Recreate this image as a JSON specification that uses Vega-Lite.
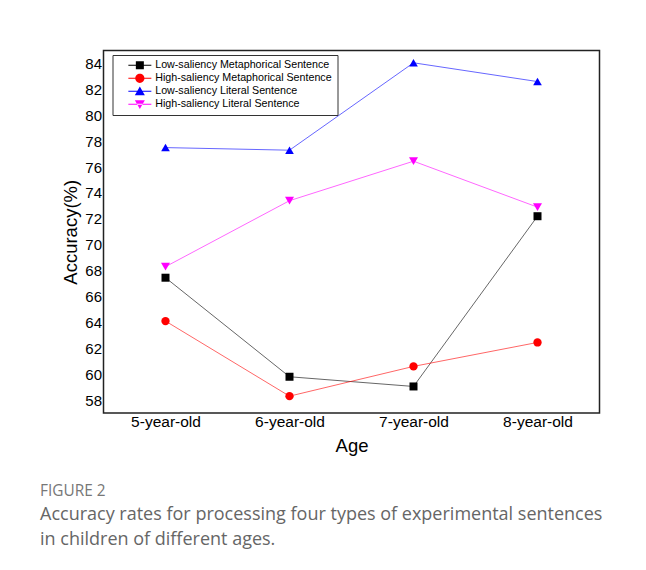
{
  "$schema": "https://vega.github.io/schema/vega-lite/v6.json",
  "autosize": {"type": "none"},
  "width": 496,
  "height": 362.5,
  "padding": {"left": 103.5, "top": 50.5, "right": 46.5, "bottom": 157},
  "background": "white",
  "data": {
    "values": [
      {"age": "5-year-old", "type": "Low-saliency Metaphorical Sentence", "acc": 67.45},
      {"age": "6-year-old", "type": "Low-saliency Metaphorical Sentence", "acc": 59.8},
      {"age": "7-year-old", "type": "Low-saliency Metaphorical Sentence", "acc": 59.05},
      {"age": "8-year-old", "type": "Low-saliency Metaphorical Sentence", "acc": 72.2},
      {"age": "5-year-old", "type": "High-saliency Metaphorical Sentence", "acc": 64.1},
      {"age": "6-year-old", "type": "High-saliency Metaphorical Sentence", "acc": 58.3},
      {"age": "7-year-old", "type": "High-saliency Metaphorical Sentence", "acc": 60.6},
      {"age": "8-year-old", "type": "High-saliency Metaphorical Sentence", "acc": 62.45},
      {"age": "5-year-old", "type": "Low-saliency Literal Sentence", "acc": 77.5},
      {"age": "6-year-old", "type": "Low-saliency Literal Sentence", "acc": 77.3},
      {"age": "7-year-old", "type": "Low-saliency Literal Sentence", "acc": 84.05},
      {"age": "8-year-old", "type": "Low-saliency Literal Sentence", "acc": 82.6},
      {"age": "5-year-old", "type": "High-saliency Literal Sentence", "acc": 68.3},
      {"age": "6-year-old", "type": "High-saliency Literal Sentence", "acc": 73.4},
      {"age": "7-year-old", "type": "High-saliency Literal Sentence", "acc": 76.45},
      {"age": "8-year-old", "type": "High-saliency Literal Sentence", "acc": 72.9}
    ]
  },
  "encoding": {
    "x": {
      "field": "age", "type": "ordinal", "title": "Age",
      "scale": {"type": "point", "padding": 0.5},
      "axis": {"labelAngle": 0, "labelFontSize": 15.5, "labelPadding": 1, "titleFontSize": 18.5, "titlePadding": 7, "ticks": false, "domain": false, "grid": false}
    },
    "y": {
      "field": "acc", "type": "quantitative", "title": "Accuracy(%)",
      "scale": {"domain": [57, 85], "nice": false, "zero": false},
      "axis": {"values": [58, 60, 62, 64, 66, 68, 70, 72, 74, 76, 78, 80, 82, 84], "labelFontSize": 15, "labelPadding": 2, "titleFontSize": 18.5, "titlePadding": 4, "ticks": false, "domain": false, "grid": false}
    }
  },
  "layer": [
    {
      "mark": {"type": "line", "strokeWidth": 1, "opacity": 0.6},
      "encoding": {
        "color": {"field": "type", "type": "nominal", "legend": null,
          "scale": {"domain": ["Low-saliency Metaphorical Sentence", "High-saliency Metaphorical Sentence", "Low-saliency Literal Sentence", "High-saliency Literal Sentence"], "range": ["#000000", "#ff0000", "#0000ff", "#ff00ff"]}}
      }
    },
    {
      "mark": {"type": "point", "filled": true, "opacity": 1},
      "encoding": {
        "color": {"field": "type", "type": "nominal", "legend": null,
          "scale": {"domain": ["Low-saliency Metaphorical Sentence", "High-saliency Metaphorical Sentence", "Low-saliency Literal Sentence", "High-saliency Literal Sentence"], "range": ["#000000", "#ff0000", "#0000ff", "#ff00ff"]}},
        "shape": {"field": "type", "type": "nominal", "legend": null,
          "scale": {"domain": ["Low-saliency Metaphorical Sentence", "High-saliency Metaphorical Sentence", "Low-saliency Literal Sentence", "High-saliency Literal Sentence"], "range": ["square", "circle", "triangle-up", "triangle-down"]}},
        "size": {"field": "type", "type": "ordinal", "legend": null,
          "scale": {"domain": ["Low-saliency Metaphorical Sentence", "High-saliency Metaphorical Sentence", "Low-saliency Literal Sentence", "High-saliency Literal Sentence"], "range": [64, 81, 110, 110]}}
      }
    },
    {
      "transform": [{"filter": "false"}],
      "mark": {"type": "point", "filled": true, "opacity": 1},
      "encoding": {
        "color": {"field": "type", "type": "nominal",
          "scale": {"domain": ["Low-saliency Metaphorical Sentence", "High-saliency Metaphorical Sentence", "Low-saliency Literal Sentence", "High-saliency Literal Sentence"], "range": ["#000000", "#ff0000", "#0000ff", "#ff00ff"]},
          "legend": {"title": null, "orient": "none", "legendX": 9, "legendY": 4.5, "direction": "vertical"}},
        "shape": {"field": "type", "type": "nominal",
          "scale": {"domain": ["Low-saliency Metaphorical Sentence", "High-saliency Metaphorical Sentence", "Low-saliency Literal Sentence", "High-saliency Literal Sentence"],
            "range": [
              "M-2.3,-0.1H2.3V0.1H-2.3Z M-0.8,-0.8H0.8V0.8H-0.8Z",
              "M-2.3,-0.1H2.3V0.1H-2.3Z M0.92,0A0.92,0.92 0 1,1 -0.92,0A0.92,0.92 0 1,1 0.92,0Z",
              "M-2.3,-0.1H2.3V0.1H-2.3Z M0,-0.95L1,0.8L-1,0.8Z",
              "M-2.3,-0.1H2.3V0.1H-2.3Z M0,0.95L1,-0.8L-1,-0.8Z"
            ]},
          "legend": {"title": null, "orient": "none", "legendX": 9, "legendY": 4.5, "direction": "vertical"}}
      }
    }
  ],
  "resolve": {"scale": {"color": "independent", "shape": "independent"}},
  "title": {
    "text": "FIGURE 2",
    "subtitle": ["Accuracy rates for processing four types of experimental sentences", "in children of different ages."],
    "orient": "bottom", "anchor": "start", "frame": "group", "dx": -63.5, "offset": 29,
    "font": "Open Sans", "fontSize": 15.4, "fontWeight": "normal", "color": "#777777",
    "subtitleFont": "Open Sans", "subtitleFontSize": 18, "subtitleColor": "#666666", "subtitleLineHeight": 25, "subtitlePadding": 7
  },
  "config": {
    "view": {"stroke": "#222222", "strokeWidth": 1.5},
    "axis": {"labelFont": "Liberation Sans", "titleFont": "Liberation Sans", "labelColor": "#000000", "titleColor": "#000000", "titleFontWeight": "normal"},
    "legend": {
      "labelFont": "Liberation Sans", "labelFontSize": 10.7, "labelColor": "#000000", "labelLimit": 400,
      "symbolSize": 100, "symbolStrokeWidth": 0, "symbolOffset": 17, "labelOffset": 10,
      "padding": 5, "rowPadding": 1, "strokeColor": "#333333", "fillColor": "#ffffff", "symbolOpacity": 1
    }
  }
}
